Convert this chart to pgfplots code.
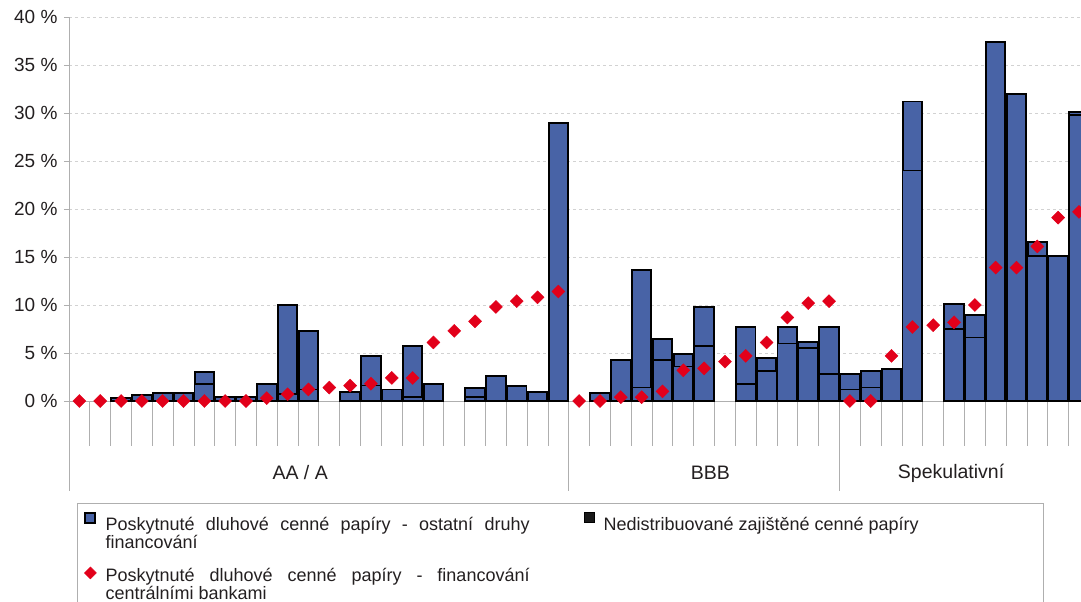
\documentclass[border=0pt]{standalone}
\usepackage{pgfplots}
\pgfplotsset{compat=1.18}
\usepackage{fontspec}
\setmainfont{Liberation Sans}
\definecolor{barblue}{RGB}{72,99,166}
\definecolor{mkred}{RGB}{226,0,26}
\definecolor{axgray}{RGB}{175,175,175}
\definecolor{txt}{RGB}{35,31,32}
\begin{document}
\begin{tikzpicture}[x=1pt,y=1pt]
\useasboundingbox (0,0) rectangle (1081,602);
\clip (0,0) rectangle (1081,602);
\draw[axgray, line width=0.9pt] (77,99) rectangle (1043,-20);
\begin{axis}[
  at={(69pt,201pt)}, anchor=south west,
  scale only axis, width=1012pt, height=384pt,
  xmin=-0.5, xmax=48.1, ymin=0, ymax=40,
  axis lines*=left,
  axis line style={axgray, line width=0.8pt},
  xtick=\empty,
  ytick={0,5,...,40},
  yticklabel={\pgfmathprintnumber{\tick}~\%},
  /pgf/number format/assume math mode=true,
  ticklabel style={font=\fontsize{19}{22}\selectfont, text=txt},
  yticklabel style={xshift=-3pt},
  tick align=outside,
  major tick length=5pt,
  ytick style={axgray, line width=0.8pt},
  ymajorgrids,
  grid style={gray!35, dashed, line width=0.6pt},
  clip=false,
  legend cell align=left,
  legend style={at={(axis description cs:0,0)}, anchor=north west,
    xshift=15pt, yshift=-111pt, draw=none, fill=none, inner sep=0pt,
    row sep=35pt,
    nodes={text width=424pt, align=justify, inner sep=0pt, text=txt,
      font=\fontsize{18}{18}\selectfont},
    /tikz/every odd column/.append style={column sep=9pt},
    /tikz/every even column/.append style={column sep=54pt}},
  legend columns=2,
]
\pgfplotsinvokeforeach{0,...,47}{
  \draw[axgray, line width=0.8pt] (axis cs:#1+0.5,0) -- ++(0pt,-45pt);
}
\draw[axgray, line width=0.8pt] (axis cs:-0.5,0) -- ++(0pt,-90pt);
\draw[axgray, line width=0.8pt] (axis cs:23.5,0) -- ++(0pt,-90pt);
\draw[axgray, line width=0.8pt] (axis cs:36.5,0) -- ++(0pt,-90pt);
\node[font=\fontsize{19.5}{22}\selectfont, text=txt, yshift=-72pt] at (axis cs:10.6,0) {AA / A};
\node[font=\fontsize{19.5}{22}\selectfont, text=txt, yshift=-72pt] at (axis cs:30.3,0) {BBB};
\node[font=\fontsize{19.5}{22}\selectfont, text=txt, yshift=-72pt] at (axis cs:41.86,0) {Spekulativní};

\addplot[ybar, bar width=19.5pt, bar shift=0pt, fill=barblue, draw=black, line width=1.9pt,
  legend image code/.code={\draw[fill=barblue, draw=black, line width=1.3pt] (0.5pt,1.5pt) rectangle (10.5pt,11.5pt);}]
coordinates {
(2,0.3) (3,0.6) (4,0.8) (5,0.8) (6,3.0) (7,0.4) (8,0.4) (9,1.8) (10,10.0) (11,7.3)
(13,0.9) (14,4.7) (15,1.2) (16,5.7) (17,1.8) (19,1.4) (20,2.6) (21,1.6) (22,0.9) (23,29.0)
(25,0.8) (26,4.3) (27,13.6) (28,6.5) (29,4.9) (30,9.8) (32,7.7) (33,4.5) (34,7.7) (35,6.1) (36,7.7)
(37,2.8) (38,3.1) (39,3.3) (40,31.2) (42,10.1) (43,9.0) (44,37.4) (45,32.0) (46,16.6) (47,15.1) (48,30.1)
};
\addlegendentry{Poskytnuté dluhové cenné papíry - ostatní druhy\linebreak financování}

\addplot[ybar, bar width=19.5pt, bar shift=0pt, fill=barblue, draw=black, line width=1.6pt,
  legend image code/.code={\draw[fill=black!90, draw=black, line width=1pt] (0.5pt,1.5pt) rectangle (10.5pt,11.5pt);}]
coordinates {
(6,1.8) (10,0.7) (11,1.2) (14,1.6) (16,0.4) (19,0.4)
(27,1.4) (28,4.3) (29,3.6) (30,5.7) (32,1.8) (33,3.1) (34,6.0) (35,5.5) (36,2.8)
(37,1.2) (38,1.4) (40,24.0) (42,7.5) (43,6.6) (46,15.1) (48,29.8)
};
\addlegendentry{Nedistribuované zajištěné cenné papíry}

\addplot[only marks, mark=square*, mark size=4.6pt, color=mkred,
  mark options={rotate=45, fill=mkred, draw=mkred},
  legend image code/.code={\fill[mkred] (6pt,-3pt) -- (12pt,3pt) -- (6pt,9pt) -- (0pt,3pt) -- cycle;}]
coordinates {
(0,0) (1,0) (2,0) (3,0) (4,0) (5,0) (6,0) (7,0) (8,0) (9,0.3) (10,0.7) (11,1.2)
(12,1.4) (13,1.6) (14,1.8) (15,2.4) (16,2.4) (17,6.1) (18,7.3) (19,8.3) (20,9.8) (21,10.4) (22,10.8) (23,11.4)
(24,0) (25,0) (26,0.4) (27,0.4) (28,1.0) (29,3.2) (30,3.4) (31,4.1) (32,4.7) (33,6.1) (34,8.7) (35,10.2) (36,10.4)
(37,0) (38,0) (39,4.7) (40,7.7) (41,7.9) (42,8.2) (43,10.0) (44,13.9) (45,13.9) (46,16.1) (47,19.1) (48,19.7)
};
\addlegendentry{Poskytnuté dluhové cenné papíry - financování\linebreak centrálními bankami}
\end{axis}
\end{tikzpicture}
\end{document}
